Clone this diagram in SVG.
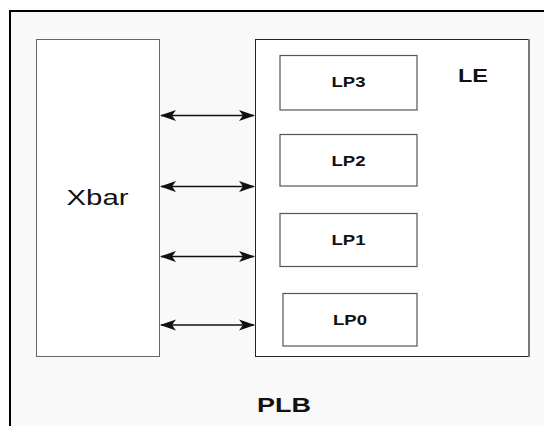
<svg xmlns="http://www.w3.org/2000/svg" width="544" height="426" viewBox="0 0 544 426">
  <style>
    .box { fill: #ffffff; stroke: #666666; stroke-width: 1; }
    .lp { fill: #ffffff; stroke: #555555; stroke-width: 1.2; }
    .conn { stroke: #111111; stroke-width: 1.6; fill: none; marker-start: url(#ah); marker-end: url(#ah); }
    .t { font-family: "Liberation Sans", Arial, sans-serif; fill: #111111; }
    .b { font-weight: bold; }
  </style>
  <defs>
    <marker id="ah" viewBox="0 0 16 12" refX="15" refY="6" markerWidth="16" markerHeight="12" markerUnits="userSpaceOnUse" orient="auto-start-reverse">
      <path d="M0,0.5 L16,6 L0,11.5 L4,6 Z" fill="#111111"/>
    </marker>
  </defs>
  <rect x="0" y="0" width="544" height="426" fill="#ffffff"/>
  <g id="PLB">
    <rect x="10" y="11" width="600" height="500" fill="#f9f9f9" stroke="#000000" stroke-width="2"/>
    <text class="t b" x="284" y="412" font-size="21" text-anchor="middle" textLength="54" lengthAdjust="spacingAndGlyphs">PLB</text>
  </g>
  <g id="Xbar">
    <rect class="box" x="36.5" y="39.5" width="123" height="317"/>
    <text class="t" x="97.5" y="205" font-size="22" text-anchor="middle" textLength="62" lengthAdjust="spacingAndGlyphs">Xbar</text>
  </g>
  <g id="LE">
    <rect x="255.5" y="39.5" width="273" height="317" fill="#ffffff" stroke="#222222" stroke-width="1"/>
    <line x1="529" y1="39" x2="529" y2="357" stroke="#777777" stroke-width="2"/>
    <text class="t b" x="473" y="82" font-size="19" text-anchor="middle" textLength="30" lengthAdjust="spacingAndGlyphs">LE</text>
  </g>
  <g id="LP3">
    <rect class="lp" x="280" y="55.5" width="137" height="54.5"/>
    <text class="t b" x="348.5" y="87" font-size="15" text-anchor="middle" textLength="34" lengthAdjust="spacingAndGlyphs">LP3</text>
  </g>
  <g id="LP2">
    <rect class="lp" x="280" y="134.5" width="137" height="51.5"/>
    <text class="t b" x="348.5" y="166" font-size="15" text-anchor="middle" textLength="34" lengthAdjust="spacingAndGlyphs">LP2</text>
  </g>
  <g id="LP1">
    <rect class="lp" x="280" y="213.5" width="137" height="53"/>
    <text class="t b" x="348.5" y="245" font-size="15" text-anchor="middle" textLength="34" lengthAdjust="spacingAndGlyphs">LP1</text>
  </g>
  <g id="LP0">
    <rect class="lp" x="283" y="293.5" width="134" height="52.5"/>
    <text class="t b" x="350" y="325" font-size="15" text-anchor="middle" textLength="34" lengthAdjust="spacingAndGlyphs">LP0</text>
  </g>
  <g id="connectors">
    <line class="conn" x1="161" y1="115.5" x2="254" y2="115.5"/>
    <line class="conn" x1="161" y1="186.5" x2="254" y2="186.5"/>
    <line class="conn" x1="161" y1="256.5" x2="254" y2="256.5"/>
    <line class="conn" x1="161" y1="325" x2="254" y2="325"/>
  </g>
</svg>
